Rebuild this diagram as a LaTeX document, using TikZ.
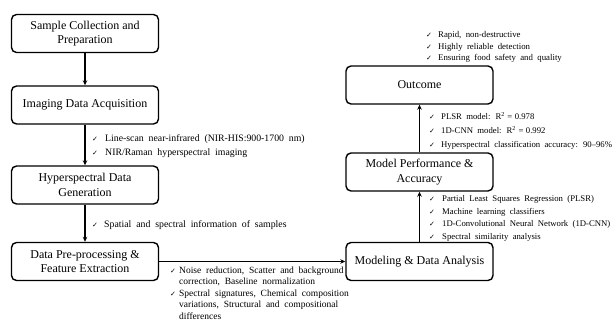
\documentclass[tikz,border=0pt]{standalone}
\usepackage{fontspec}
\setmainfont{Liberation Serif}
\newfontfamily\symfont{DejaVu Sans}
\usetikzlibrary{arrows.meta}

\newcommand{\chk}[1][12pt]{\makebox[#1][l]{\symfont\fontsize{7}{7}\selectfont ✓}}
\newcommand{\notefont}[2]{\fontsize{#1}{#2}\selectfont\spaceskip=0.5em plus 0.1em}

\begin{document}
\begin{tikzpicture}[x=1pt, y=-1pt,
	stage/.style={draw, line width=1.4pt, rounded corners=5pt, minimum width=147pt,
		minimum height=38pt, align=center, font=\fontsize{12}{14.5}\selectfont},
	note/.style={anchor=west, align=left, inner sep=0pt, font=\notefont{9.8}{14}},
	flow/.style={line width=1.1pt, -{Stealth[length=5pt, width=4.5pt]}}]
	\useasboundingbox (0,0) rectangle (616,321);
	
	% left column
	\node[stage] (collect) at (85,33.5) {Sample Collection and\\Preparation};
	\node[stage] (acquire) at (85,105) {Imaging Data Acquisition};
	\node[stage] (generate) at (85,185) {Hyperspectral Data\\Generation};
	\node[stage] (preproc) at (85,261.5) {Data Pre-processing \&\\Feature Extraction};
	
	% right column
	\node[stage] (model) at (419.5,261.5) {Modeling \& Data Analysis};
	\node[stage] (perform) at (419.5,172) {Model Performance \&\\Accuracy};
	\node[stage] (outcome) at (419.5,85) {Outcome};
	
	\draw[flow] (collect) -- (acquire);
	\draw[flow] (acquire) -- (generate);
	\draw[flow] (generate) -- (preproc);
	\draw[flow] (preproc) -- (model);
	\draw[flow] (model) -- (perform);
	\draw[flow] (perform) -- (outcome);
	
	% notes
	\node[note] (n-acq) at (92,146)
	{\chk[13pt]Line-scan near-infrared (NIR-HIS:900-1700 nm)\\
		\chk[13pt]NIR/Raman hyperspectral imaging};
	\node[note] (n-gen) at (92,225)
	{\chk Spatial and spectral information of samples};
	\node[note, font=\notefont{9.5}{11.5}] (n-pre) at (170,293)
	{\chk[9pt]Noise reduction, Scatter and background\\
		\hspace*{9pt}correction, Baseline normalization\\
		\chk[9pt]Spectral signatures, Chemical composition\\
		\hspace*{9pt}variations, Structural and compositional\\
		\hspace*{9pt}differences};
	\node[note, font=\notefont{8.7}{12.5}] (n-mod) at (429,218.5)
	{\chk[13pt]Partial Least Squares Regression (PLSR)\\
		\chk[13pt]Machine learning classifiers\\
		\chk[13pt]1D-Convolutional Neural Network (1D-CNN)\\
		\chk[13pt]Spectral similarity analysis};
	\node[note, font=\notefont{8.7}{14}] (n-perf) at (429,131)
	{\chk PLSR model: R\textsuperscript{2}\hspace{2.5pt}=\hspace{2.5pt}0.978\\
		\chk 1D-CNN model: R\textsuperscript{2}\hspace{2.5pt}=\hspace{2.5pt}0.992\\
		\chk Hyperspectral classification accuracy: 90–96\%};
	\node[note, font=\notefont{8.8}{11.8}] (n-out) at (426,47)
	{\chk Rapid, non-destructive\\
		\chk Highly reliable detection\\
		\chk Ensuring food safety and quality};
\end{tikzpicture}
\end{document}
